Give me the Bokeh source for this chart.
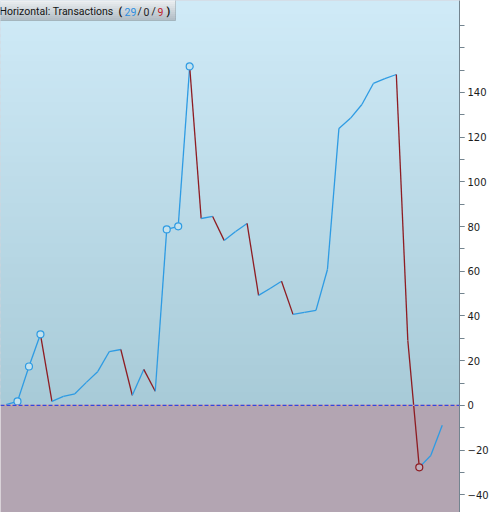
import numpy as np
from bokeh.plotting import figure
from bokeh.models import ColumnDataSource, FixedTicker, Span, Label, BoxAnnotation
from bokeh.embed import file_html
from bokeh.resources import INLINE

# ---- data ----
values = [0.3, 1.8, 17.4, 31.8, 1.8, 4.0, 5.2, 10.3, 15.2, 24.1, 25.0, 4.5, 16.1, 6.3,
          78.7, 80.1, 151.6, 83.6, 84.5, 73.8, 77.8, 81.4, 49.2, 52.3, 55.5, 40.7,
          41.6, 42.5, 60.8, 123.9, 128.4, 134.6, 144.0, 146.2, 148.0, 29.1, -27.7,
          -22.4, -8.9]
marked = [1, 2, 3, 14, 15, 16, 36]
major_ticks = [-40, -20, 0, 20, 40, 60, 80, 100, 120, 140]
minor_ticks = list(range(-40, 171, 10))
title_text = "Horizontal: Transactions"

UP = "#2e9be3"
DOWN = "#8e1c22"

idx = list(range(len(values)))
x0 = idx[:-1]
x1 = idx[1:]
y0 = values[:-1]
y1 = values[1:]
seg_col = [UP if b >= a else DOWN for a, b in zip(y0, y1)]
n_up = sum(1 for a, b in zip(y0, y1) if b > a)
n_eq = sum(1 for a, b in zip(y0, y1) if b == a)
n_dn = sum(1 for a, b in zip(y0, y1) if b < a)

W, H = 491, 512
RB = 30
XR = (-0.48, -0.48 + (W - RB) / 11.53)
YR = (-47.9, 181.1)

p = figure(width=W, height=H, x_range=XR, y_range=YR, y_axis_location="right",
           x_axis_location=None, output_backend="svg", toolbar_location=None,
           min_border_left=0, min_border_top=0, min_border_bottom=0, min_border_right=RB)
p.grid.visible = False
p.outline_line_color = None
p.background_fill_color = (179, 165, 178)
p.border_fill_color = "white"

# gradient background above zero (overlapping strips to avoid seams)
nst = 60
edges = np.linspace(0, YR[1], nst + 1)
step = edges[1] - edges[0]
c_bot = np.array([168, 203, 216])
c_top = np.array([208, 235, 248])
cols = []
for k in range(nst):
    t = (k + 0.5) / nst
    c = (c_bot * (1 - t) + c_top * t).astype(int)
    cols.append("#%02x%02x%02x" % tuple(c))
p.quad(left=XR[0] - 1, right=XR[1] + 5, bottom=edges[:-1], top=edges[1:] + step * 0.6,
       color=cols, line_color=None)

# zero line
p.add_layout(Span(location=0, dimension="width", line_color="#e8a090", line_width=1.3))
p.add_layout(Span(location=0, dimension="width", line_color="#3347e0", line_width=1.3, line_dash="4 2"))

src = ColumnDataSource(dict(x0=x0, x1=x1, y0=y0, y1=y1, c=seg_col))
p.segment(x0="x0", y0="y0", x1="x1", y1="y1", line_color="c", line_width=1.3, source=src)

mx = [idx[i] for i in marked]
my = [values[i] for i in marked]
mc = [UP if (i == 0 or values[i] >= values[i - 1]) else DOWN for i in marked]
mf = ["#c4e2ee" if c == UP else "#c0aebb" for c in mc]
p.scatter(mx, my, size=7, fill_color=mf, line_color=mc, line_width=1.2)

# axis
ax = p.yaxis[0]
ax.ticker = FixedTicker(ticks=major_ticks, minor_ticks=minor_ticks)
ax.axis_line_color = "#73848f"
ax.major_tick_line_color = "#73848f"
ax.minor_tick_line_color = "#73848f"
ax.major_tick_in = 0
ax.major_tick_out = 5
ax.minor_tick_in = 0
ax.minor_tick_out = 5
ax.major_label_text_font = "DejaVu Sans"
ax.major_label_text_font_size = "10px"
ax.major_label_text_color = "#1c1c1c"
ax.major_label_standoff = 3

# title tab
tab_w, tab_h = 175, 20
nt = 10
for k in range(nt):
    t = k / (nt - 1)
    c = (np.array([236, 239, 241]) * (1 - t) + np.array([180, 191, 199]) * t).astype(int)
    p.add_layout(BoxAnnotation(left=-2, right=tab_w, top=H - k * tab_h / nt + 0.5,
                               bottom=H - (k + 1) * tab_h / nt,
                               left_units="screen", right_units="screen", top_units="screen",
                               bottom_units="screen", fill_color="#%02x%02x%02x" % tuple(c),
                               fill_alpha=1, line_color=None, level="overlay"))
p.add_layout(BoxAnnotation(left=-2, right=tab_w, top=H + 1, bottom=H - tab_h,
                           left_units="screen", right_units="screen", top_units="screen",
                           bottom_units="screen", fill_color=None, fill_alpha=0,
                           line_color="#656c72", line_width=1, level="overlay"))

font = "Roboto"
fs = "10.5px"
ty = H - 11
parts = [(title_text, -1, "#141414", "normal"), ("(", 118, "#141414", "bold"),
         (str(n_up), 124, "#2e8fe0", "normal"), ("/", 137, "#141414", "normal"),
         (str(n_eq), 143, "#222222", "normal"), ("/", 151, "#141414", "normal"),
         (str(n_dn), 157, "#c0202a", "normal"), (")", 166, "#141414", "bold")]
for txt, xx, col, st in parts:
    p.add_layout(Label(x=xx, y=ty, x_units="screen", y_units="screen", text=txt,
                       text_font=font, text_font_size=fs, text_color=col,
                       text_baseline="middle", text_font_style=st, level="overlay"))

open("out.html", "w").write(file_html(p, INLINE))
